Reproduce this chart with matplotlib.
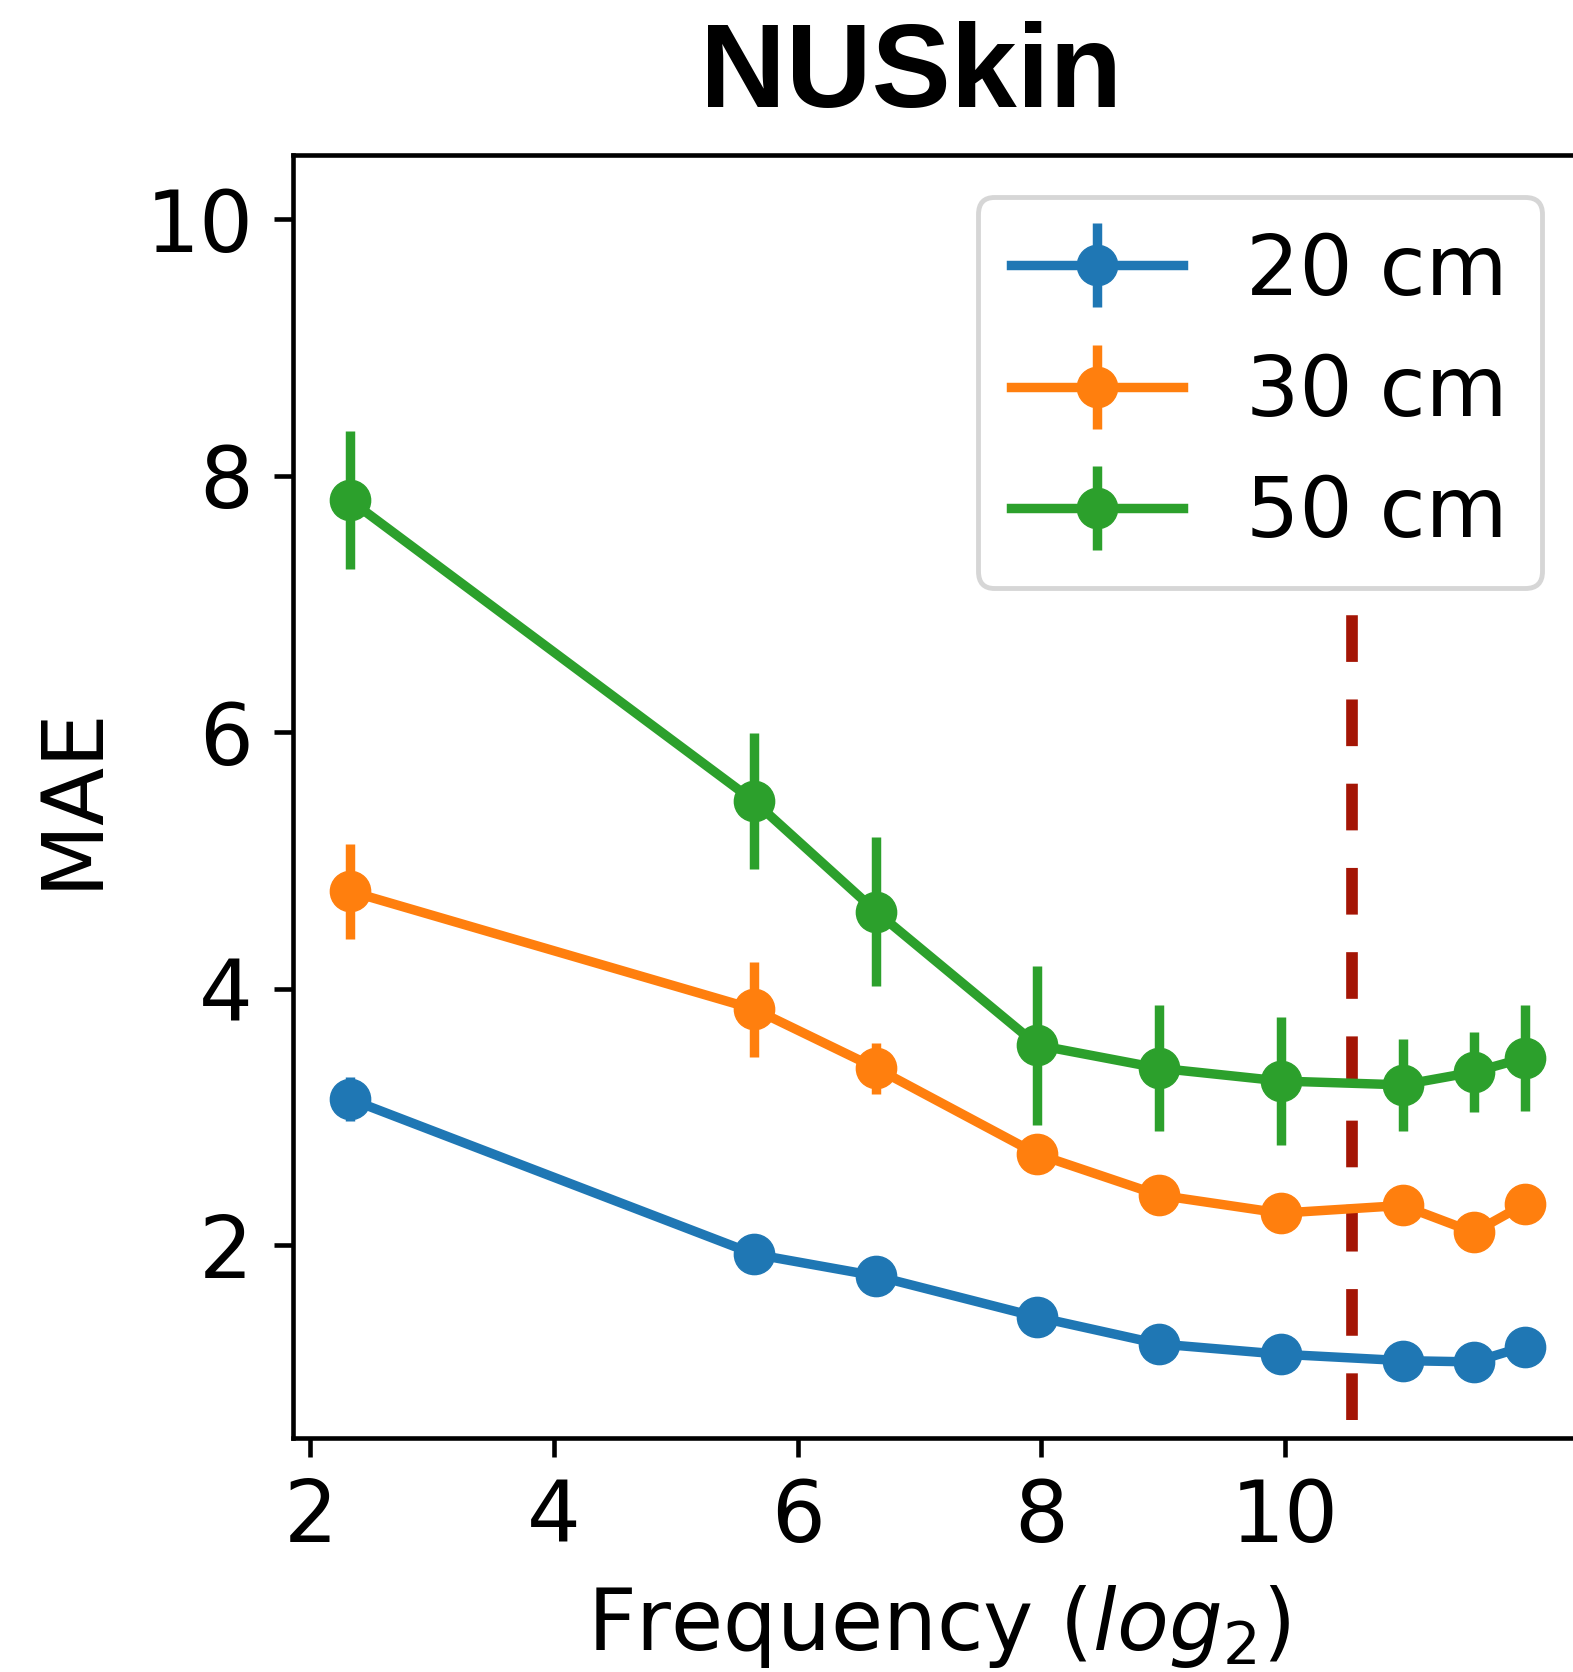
import numpy as np
import matplotlib
matplotlib.use("Agg")
import matplotlib.pyplot as plt

# Sampling frequencies (Hz); plotted on a log2 axis
freqs = [5, 50, 100, 250, 500, 1000, 2000, 3000, 4000]
labels = ["20 cm", "30 cm", "50 cm"]
colors = ["#1f77b4", "#ff7f0e", "#2ca02c"]

mae_20 = [3.14, 1.93, 1.76, 1.44, 1.23, 1.15, 1.10, 1.09, 1.21]
err_20 = [0.17, 0.08, 0.08, 0.08, 0.07, 0.07, 0.07, 0.07, 0.07]
mae_30 = [4.76, 3.84, 3.38, 2.71, 2.39, 2.25, 2.31, 2.10, 2.32]
err_30 = [0.37, 0.37, 0.20, 0.10, 0.10, 0.10, 0.10, 0.10, 0.10]
mae_50 = [7.81, 5.46, 4.60, 3.56, 3.38, 3.28, 3.25, 3.35, 3.46]
err_50 = [0.54, 0.53, 0.58, 0.62, 0.49, 0.50, 0.36, 0.31, 0.41]

cutoff_freq = 1500
xticks = [2, 4, 6, 8, 10]
yticks = [2, 4, 6, 8, 10]

x = np.log2(freqs)

plt.rcParams["font.family"] = ["DejaVu Sans"]
plt.rcParams["mathtext.fontset"] = "dejavusans"

fig = plt.figure(figsize=(15.73, 16.72), dpi=100)
ax = fig.add_axes([0.1863, 0.1402, 0.8204, 0.7671])

lw = 6.8
for mae, err, lab, col in zip([mae_20, mae_30, mae_50],
                              [err_20, err_30, err_50], labels, colors):
    ax.errorbar(x, mae, yerr=err, color=col, label=lab, marker="o",
                markersize=29, linewidth=lw, elinewidth=lw, capsize=0)

ax.vlines(np.log2(cutoff_freq), 0.64, 6.95, colors="#a41505",
          linewidth=8.4, linestyles=(0, (4.0, 3.22)))

ax.set_xlim(1.857, 12.45)
ax.set_ylim(0.5, 10.5)
ax.set_xticks(xticks)
ax.set_yticks(yticks)
ax.tick_params(labelsize=61, length=13.7, width=3.3, pad=15)
for sp in ax.spines.values():
    sp.set_linewidth(3.3)

ax.set_xlabel("Frequency ($log_2$)", fontsize=61, labelpad=16)
ax.set_ylabel("MAE", fontsize=61, labelpad=23)

leg = ax.legend(loc="upper right", fontsize=60.5, fancybox=True,
                framealpha=0.8, labelspacing=0.48, handletextpad=0.75,
                handlelength=2.05)
leg.get_frame().set_linewidth(3.5)
leg.get_frame().set_edgecolor("0.8")

fig.text(0.579, 1 - 107 / 1672, "NUSkin", fontsize=85.5, fontweight="bold",
         family="Liberation Sans", ha="center", va="baseline")

fig.savefig("out.png", dpi=100)
